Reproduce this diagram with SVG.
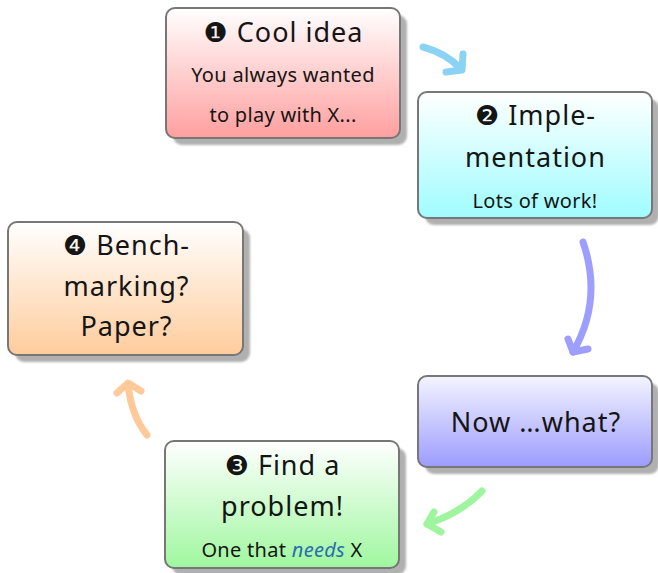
<svg xmlns="http://www.w3.org/2000/svg" width="658" height="573" viewBox="0 0 658 573">
<defs>
<linearGradient id="gRed" x1="0" y1="0" x2="0" y2="1"><stop offset="0" stop-color="#ffffff"/><stop offset="1" stop-color="#ff9f9f"/></linearGradient>
<linearGradient id="gCyan" x1="0" y1="0" x2="0" y2="1"><stop offset="0" stop-color="#ffffff"/><stop offset="1" stop-color="#9ffcff"/></linearGradient>
<linearGradient id="gBlue" x1="0" y1="0" x2="0" y2="1"><stop offset="0" stop-color="#f4f4ff"/><stop offset="1" stop-color="#9c9cff"/></linearGradient>
<linearGradient id="gGreen" x1="0" y1="0" x2="0" y2="1"><stop offset="0" stop-color="#ffffff"/><stop offset="1" stop-color="#9ff79f"/></linearGradient>
<linearGradient id="gOrange" x1="0" y1="0" x2="0" y2="1"><stop offset="0" stop-color="#ffffff"/><stop offset="1" stop-color="#ffcc9c"/></linearGradient>
<filter id="blur" x="-10%" y="-10%" width="120%" height="120%"><feGaussianBlur stdDeviation="1"/></filter>
</defs>
<style>
.shadow{fill:#b0b0b0;filter:url(#blur)}
.box{stroke:#777777;stroke-width:2}
text{font-family:"Noto Sans","DejaVu Sans",sans-serif;fill:#151515;text-anchor:middle}
.big{font-size:27px;letter-spacing:1px}
.small{font-size:20px;letter-spacing:0.3px}
.num{font-family:"DejaVu Sans",sans-serif}
.em{font-style:italic;fill:#2a6db0}
.arr{fill:none;stroke-width:7;stroke-linecap:round;stroke-linejoin:round}
</style>

<g id="node1">
<rect class="shadow" x="173" y="15" width="234" height="130" rx="9"/>
<rect class="box" x="166" y="8" width="234" height="130" rx="9" fill="url(#gRed)"/>
<text class="big" x="283.5" y="42"><tspan class="num">❶</tspan> Cool idea</text>
<text class="small" x="283" y="82">You always wanted</text>
<text class="small" x="283" y="122">to play with X...</text>
</g>

<g id="node2">
<rect class="shadow" x="425" y="99" width="234" height="126" rx="9"/>
<rect class="box" x="418" y="92" width="234" height="126" rx="9" fill="url(#gCyan)"/>
<text class="big" x="535.5" y="125"><tspan class="num">❷</tspan> Imple-</text>
<text class="big" x="535.5" y="167">mentation</text>
<text class="small" x="535" y="208">Lots of work!</text>
</g>

<g id="node_now">
<rect class="shadow" x="425" y="383" width="234" height="91" rx="9"/>
<rect class="box" x="418" y="376" width="234" height="91" rx="9" fill="url(#gBlue)"/>
<text class="big" x="536" y="432">Now …what?</text>
</g>

<g id="node3">
<rect class="shadow" x="172" y="448" width="234" height="127" rx="9"/>
<rect class="box" x="165" y="441" width="234" height="127" rx="9" fill="url(#gGreen)"/>
<text class="big" x="282.5" y="475"><tspan class="num">❸</tspan> Find a</text>
<text class="big" x="282.5" y="516">problem!</text>
<text class="small" x="282" y="557">One that <tspan class="em">needs</tspan> X</text>
</g>

<g id="node4">
<rect class="shadow" x="15" y="229" width="235" height="133" rx="9"/>
<rect class="box" x="8" y="222" width="235" height="133" rx="9" fill="url(#gOrange)"/>
<text class="big" x="126.5" y="255"><tspan class="num">❹</tspan> Bench-</text>
<text class="big" x="126.5" y="296">marking?</text>
<text class="big" x="126.5" y="336">Paper?</text>
</g>

<g id="connectors">
<path class="arr" stroke="#8ad3f5" d="M423 47 Q446 53 461 69"/>
<path class="arr" stroke="#8ad3f5" d="M463 54 L462 70 L446 72"/>
<path class="arr" stroke="#9e9eff" d="M583 242 Q603 300 573 352"/>
<path class="arr" stroke="#9e9eff" d="M568 339 L573 352 L588 349"/>
<path class="arr" stroke="#9ef59e" d="M482 491 Q461 513 427 524"/>
<path class="arr" stroke="#9ef59e" d="M434 512 L427 524 L441 532"/>
<path class="arr" stroke="#ffc99a" d="M147 435 Q131 415 128 384"/>
<path class="arr" stroke="#ffc99a" d="M117 393 L128 383 L141 391"/>
</g>
</svg>
